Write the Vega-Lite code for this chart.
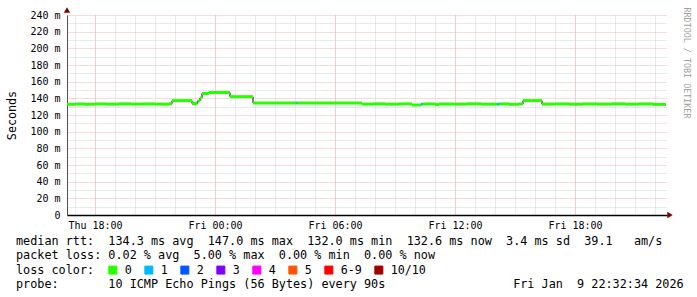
{
  "$schema": "https://vega.github.io/schema/vega-lite/v6.json",
  "width": 600,
  "height": 200,
  "autosize": {"type": "none"},
  "padding": {"left": 67, "top": 15, "right": 30, "bottom": 82},
  "background": "white",
  "config": {"view": {"stroke": null}, "font": "DejaVu Sans Mono"},
  "title": {
    "text": [
      "median\u00a0rtt:\u00a0\u00a0134.3\u00a0ms\u00a0avg\u00a0\u00a0147.0\u00a0ms\u00a0max\u00a0\u00a0132.0\u00a0ms\u00a0min\u00a0\u00a0132.6\u00a0ms\u00a0now\u00a0\u00a03.4\u00a0ms\u00a0sd\u00a0\u00a039.1\u00a0\u00a0\u00a0am/s",
      "packet\u00a0loss:\u00a00.02\u00a0%\u00a0avg\u00a0\u00a05.00\u00a0%\u00a0max\u00a0\u00a00.00\u00a0%\u00a0min\u00a0\u00a00.00\u00a0%\u00a0now",
      "loss\u00a0color:",
      "probe:\u00a0\u00a0\u00a0\u00a0\u00a0\u00a0\u00a010\u00a0ICMP\u00a0Echo\u00a0Pings\u00a0(56\u00a0Bytes)\u00a0every\u00a090s\u00a0\u00a0\u00a0\u00a0\u00a0\u00a0\u00a0\u00a0\u00a0\u00a0\u00a0\u00a0\u00a0\u00a0\u00a0\u00a0\u00a0\u00a0Fri\u00a0Jan\u00a0\u00a09\u00a022:32:34\u00a02026"
    ],
    "orient": "bottom",
    "anchor": "start",
    "frame": "group",
    "dx": -51,
    "offset": -41,
    "font": "DejaVu Sans Mono",
    "fontSize": 11.8,
    "fontWeight": "normal",
    "color": "#000000",
    "lineHeight": 14.3,
    "baseline": "top"
  },
  "data": {
    "values": [
      {"start": 16.6, "end": 17.0, "rtt": 132.8, "loss": "0"},
      {"start": 17.0, "end": 17.5, "rtt": 133.2, "loss": "0"},
      {"start": 17.5, "end": 18.0, "rtt": 132.9, "loss": "0"},
      {"start": 18.0, "end": 18.6, "rtt": 133.3, "loss": "0"},
      {"start": 18.6, "end": 19.2, "rtt": 133.0, "loss": "0"},
      {"start": 19.2, "end": 19.8, "rtt": 133.4, "loss": "0"},
      {"start": 19.8, "end": 20.4, "rtt": 133.1, "loss": "0"},
      {"start": 20.4, "end": 21.0, "rtt": 133.3, "loss": "0"},
      {"start": 21.0, "end": 21.7, "rtt": 133.0, "loss": "0"},
      {"start": 21.7, "end": 21.85, "rtt": 133.5, "loss": "0"},
      {"start": 21.85, "end": 22.85, "rtt": 137.3, "loss": "0"},
      {"start": 22.85, "end": 23.12, "rtt": 133.8, "loss": "0"},
      {"start": 23.12, "end": 23.25, "rtt": 136.8, "loss": "0"},
      {"start": 23.25, "end": 23.35, "rtt": 140.5, "loss": "0"},
      {"start": 23.35, "end": 23.7, "rtt": 145.8, "loss": "0"},
      {"start": 23.7, "end": 24.75, "rtt": 147.0, "loss": "0"},
      {"start": 24.75, "end": 25.9, "rtt": 142.0, "loss": "0"},
      {"start": 25.9, "end": 28.07, "rtt": 134.4, "loss": "0"},
      {"start": 28.07, "end": 28.13, "rtt": 134.4, "loss": "1"},
      {"start": 28.13, "end": 31.35, "rtt": 134.4, "loss": "0"},
      {"start": 31.35, "end": 31.9, "rtt": 133.0, "loss": "0"},
      {"start": 31.9, "end": 32.5, "rtt": 133.4, "loss": "0"},
      {"start": 32.5, "end": 33.2, "rtt": 133.0, "loss": "0"},
      {"start": 33.2, "end": 33.85, "rtt": 133.3, "loss": "0"},
      {"start": 33.85, "end": 34.3, "rtt": 132.0, "loss": "0"},
      {"start": 34.3, "end": 34.38, "rtt": 133.0, "loss": "1"},
      {"start": 34.38, "end": 35.0, "rtt": 133.2, "loss": "0"},
      {"start": 35.0, "end": 35.2, "rtt": 132.5, "loss": "0"},
      {"start": 35.2, "end": 35.9, "rtt": 133.2, "loss": "0"},
      {"start": 35.9, "end": 36.6, "rtt": 133.0, "loss": "0"},
      {"start": 36.6, "end": 37.3, "rtt": 133.4, "loss": "0"},
      {"start": 37.3, "end": 38.12, "rtt": 133.0, "loss": "0"},
      {"start": 38.12, "end": 38.2, "rtt": 133.0, "loss": "1"},
      {"start": 38.2, "end": 38.7, "rtt": 133.3, "loss": "0"},
      {"start": 38.7, "end": 39.2, "rtt": 132.8, "loss": "0"},
      {"start": 39.2, "end": 39.4, "rtt": 133.3, "loss": "0"},
      {"start": 39.4, "end": 40.35, "rtt": 137.3, "loss": "0"},
      {"start": 40.35, "end": 41.0, "rtt": 133.0, "loss": "0"},
      {"start": 41.0, "end": 41.7, "rtt": 133.3, "loss": "0"},
      {"start": 41.7, "end": 42.4, "rtt": 132.9, "loss": "0"},
      {"start": 42.4, "end": 43.1, "rtt": 133.3, "loss": "0"},
      {"start": 43.1, "end": 43.8, "rtt": 133.0, "loss": "0"},
      {"start": 43.8, "end": 44.5, "rtt": 133.4, "loss": "0"},
      {"start": 44.5, "end": 45.2, "rtt": 133.0, "loss": "0"},
      {"start": 45.2, "end": 45.9, "rtt": 133.3, "loss": "0"},
      {"start": 45.9, "end": 46.55, "rtt": 132.7, "loss": "0"}
    ]
  },
  "resolve": {"axis": {"x": "independent", "y": "independent"}},
  "layer": [
    {
      "mark": {"type": "line", "interpolate": "step-after", "color": "#000000", "strokeWidth": 1},
      "encoding": {
        "x": {
          "field": "start", "type": "quantitative",
          "scale": {"domain": [16.6, 46.6], "nice": false, "zero": false},
          "axis": {
            "orient": "bottom",
            "values": [17,18,19,20,21,22,23,24,25,26,27,28,29,30,31,32,33,34,35,36,37,38,39,40,41,42,43,44,45,46],
            "grid": true, "gridColor": "#d4d4d4", "gridDash": [1, 1], "gridWidth": 1,
            "labels": false, "ticks": false, "domain": false, "title": null
          }
        },
        "y": {
          "field": "rtt", "type": "quantitative",
          "scale": {"domain": [0, 240], "nice": false, "zero": true},
          "axis": {
            "orient": "left",
            "values": [10,30,50,70,90,110,130,150,170,190,210,230],
            "grid": true, "gridColor": "#d4d4d4", "gridDash": [1, 1], "gridWidth": 1,
            "labels": false, "ticks": false, "domain": false, "title": null
          }
        }
      }
    },
    {
      "mark": {"type": "rule", "strokeWidth": 3, "strokeCap": "butt"},
      "encoding": {
        "x": {
          "field": "start", "type": "quantitative",
          "axis": {
            "orient": "bottom",
            "values": [18, 24, 30, 36, 42],
            "grid": true, "gridColor": "#f0b4b4", "gridDash": [1, 1], "gridWidth": 1,
            "labelExpr": "datum.value == 18 ? 'Thu 18:00' : datum.value == 24 ? 'Fri 00:00' : datum.value == 30 ? 'Fri 06:00' : datum.value == 36 ? 'Fri 12:00' : 'Fri 18:00'",
            "labelFont": "DejaVu Sans Mono", "labelFontSize": 10, "labelColor": "#000000",
            "labelPadding": 5, "ticks": false, "tickSize": 0,
            "domain": true, "domainColor": "#000000", "domainWidth": 1.3,
            "title": null
          }
        },
        "x2": {"field": "end"},
        "y": {
          "field": "rtt", "type": "quantitative",
          "axis": {
            "orient": "left",
            "values": [0,20,40,60,80,100,120,140,160,180,200,220,240],
            "grid": true, "gridColor": "#f0b4b4", "gridDash": [1, 1], "gridWidth": 1,
            "labelExpr": "datum.value == 0 ? '0\u00a0\u00a0' : datum.value + '\u00a0m'",
            "labelFont": "DejaVu Sans Mono", "labelFontSize": 10, "labelColor": "#000000",
            "labelPadding": 7, "ticks": false, "tickSize": 0,
            "domain": true, "domainColor": "#505050", "domainWidth": 1,
            "title": "Seconds", "titleFont": "DejaVu Sans Mono", "titleFontSize": 11.7,
            "titleFontWeight": "normal", "titleColor": "#000000", "titlePadding": 12
          }
        },
        "color": {
          "field": "loss", "type": "nominal",
          "scale": {
            "domain": ["0", "1", "2", "3", "4", "5", "6-9", "10/10"],
            "range": ["#26ff00", "#00b8ff", "#0059ff", "#7e00ff", "#ff00ff", "#ff5500", "#ff0000", "#a10000"]
          },
          "legend": {
            "orient": "none", "legendX": 40, "legendY": 249,
            "direction": "horizontal", "title": null,
            "symbolType": "square", "symbolSize": 64, "symbolStrokeWidth": 1,
            "labelFont": "DejaVu Sans Mono", "labelFontSize": 11.7, "labelColor": "#000000",
            "labelOffset": 6, "columnPadding": 10, "padding": 0,
            "encode": {
              "symbols": {
                "update": {
                  "fill": {"scale": "color", "field": "value"},
                  "fillOpacity": {"value": 1},
                  "stroke": {"value": "#000000"},
                  "strokeWidth": {"value": 1},
                  "opacity": {"value": 1}
                }
              }
            }
          }
        }
      }
    },
    {
      "data": {"values": [{}]},
      "mark": {"type": "point", "shape": "triangle-up", "filled": true, "color": "#800000", "size": 40, "opacity": 1},
      "encoding": {
        "x": {"datum": 16.6, "type": "quantitative", "axis": null},
        "y": {"datum": 246, "type": "quantitative", "axis": null}
      }
    },
    {
      "data": {"values": [{}]},
      "mark": {"type": "point", "shape": "triangle-right", "filled": true, "color": "#800000", "size": 40, "opacity": 1},
      "encoding": {
        "x": {"datum": 46.75, "type": "quantitative", "axis": null},
        "y": {
          "datum": 0, "type": "quantitative",
          "axis": {
            "orient": "right", "labels": false, "ticks": false, "domain": false, "grid": false,
            "title": "RRDTOOL / TOBI OETIKER", "titleAngle": 90,
            "titleFont": "DejaVu Sans Mono", "titleFontSize": 8.4, "titleFontWeight": "normal",
            "titleColor": "#a0a0a0", "titleX": 19, "titleY": -8,
            "titleAlign": "left", "titleBaseline": "middle"
          }
        }
      }
    }
  ]
}
